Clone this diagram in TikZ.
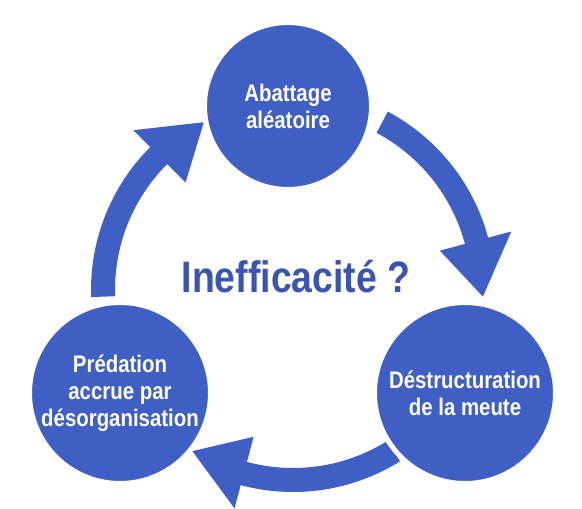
\documentclass[tikz,border=0pt]{standalone}
\usepackage{fontspec}
\newfontfamily\cfont{Liberation Sans}[FakeStretch=0.85]
\definecolor{cblue}{HTML}{3F5FC4}
\definecolor{tblue}{HTML}{3A55B0}
\tikzset{
  stage/.style={circle,fill=cblue,draw=white,line width=5pt,text=white,
    font=\cfont\bfseries\fontsize{24}{27}\selectfont,align=center,inner sep=0pt,minimum size=#1},
  cyclearrow/.style={fill=cblue}
}
\begin{document}
\begin{tikzpicture}[x=1pt,y=1pt]
\useasboundingbox (0,0) rectangle (582,509);
\coordinate (C) at (293,219);
\foreach \s in {62,-58,182}{
  \pgfmathsetmacro\b{\s-47}
  \pgfmathsetmacro\t{\s-64}
  \fill[cyclearrow,shift={(C)}] (\s:202) arc[start angle=\s,end angle=\b,radius=202]
    -- (\b:226) -- (\t:190) -- (\b:152) -- (\b:178)
    arc[start angle=\b,end angle=\s,radius=178] -- cycle;
}
\node[stage=167] (top) at (288,403) {Abattage\\aléatoire};
\node[stage=181] (right) at (465,116) {Déstructuration\\de la meute};
\node[stage=181] (left) at (120,116) {Prédation\\accrue par\\désorganisation};
\node[text=tblue,font=\cfont\bfseries\fontsize{44}{44}\selectfont] (mid) at (296,232) {Inefficacité ?};
\end{tikzpicture}
\end{document}
